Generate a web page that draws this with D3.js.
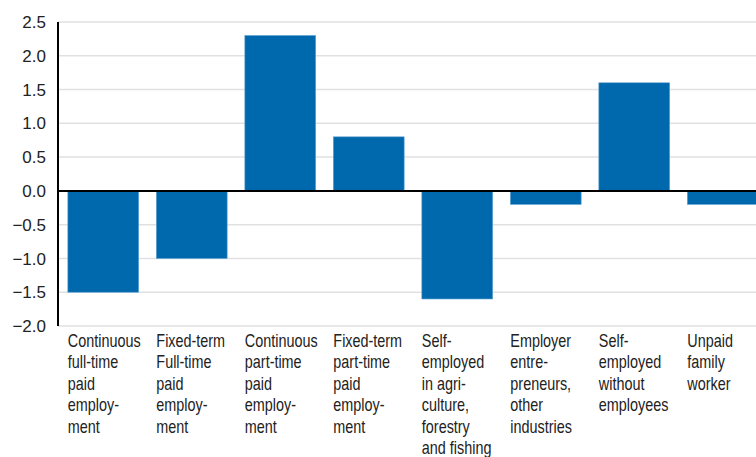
<!DOCTYPE html>
<html><head><meta charset="utf-8">
<script src="https://cdn.jsdelivr.net/npm/d3@7"></script>
<style>
body{margin:0;background:#fff;}
svg{display:block;}
.cat{font-family:"Liberation Sans","Helvetica",sans-serif;font-size:18px;fill:#222;}
.yt{font-family:"Liberation Sans","Helvetica",sans-serif;font-size:17px;fill:#222;}
</style></head>
<body><svg id="c" width="756" height="457"></svg>
<script>
const categories = [
  ["Continuous","full-time","paid","employ-","ment"],
  ["Fixed-term","Full-time","paid","employ-","ment"],
  ["Continuous","part-time","paid","employ-","ment"],
  ["Fixed-term","part-time","paid","employ-","ment"],
  ["Self-","employed","in agri-","culture,","forestry","and fishing"],
  ["Employer","entre-","preneurs,","other","industries"],
  ["Self-","employed","without","employees"],
  ["Unpaid","family","worker"]
];
const values = [-1.5, -1.0, 2.3, 0.8, -1.6, -0.2, 1.6, -0.2];
const yTicks = [-2.0, -1.5, -1.0, -0.5, 0.0, 0.5, 1.0, 1.5, 2.0, 2.5];

const svg = d3.select("#c");
const W = 756, left = 58;
const y = d3.scaleLinear().domain([-2.0, 2.5]).range([326, 22]);
const x = d3.scaleBand().domain(d3.range(categories.length)).range([59, 767]).paddingInner(0.2).paddingOuter(0.1);

// gridlines
svg.append("g").selectAll("line").data(yTicks).join("line")
  .attr("x1", left).attr("x2", W).attr("y1", d=>y(d)).attr("y2", d=>y(d))
  .attr("stroke", "#e1e1e1").attr("stroke-width", 1.5);

// y tick labels
svg.append("g").selectAll("text").data(yTicks).join("text")
  .attr("class","yt").attr("x", 46).attr("y", d=>y(d)).attr("dy","0.36em")
  .attr("text-anchor","end")
  .text(d=> (d<0?"\u2212":"") + Math.abs(d).toFixed(1));

// bars
svg.append("g").selectAll("rect").data(values).join("rect")
  .attr("x", (d,i)=>x(i)).attr("width", x.bandwidth())
  .attr("y", d=>y(Math.max(0,d))).attr("height", d=>Math.abs(y(d)-y(0)))
  .attr("fill", "#0069ad").attr("stroke","#5aa0d0").attr("stroke-width",0.6);

// zero line
svg.append("line").attr("x1", left).attr("x2", W).attr("y1", y(0)).attr("y2", y(0))
  .attr("stroke","#000").attr("stroke-width",2);
// y axis line
svg.append("line").attr("x1", left).attr("x2", left).attr("y1", y(2.5)).attr("y2", y(-2.0))
  .attr("stroke","#000").attr("stroke-width",2);

// category labels (condensed look)
const g = svg.append("g");
categories.forEach((lines,i)=>{
  const gg = g.append("g").attr("transform", `translate(${x(i)},0) scale(0.8,1)`);
  const t = gg.append("text").attr("class","cat").attr("x", 0).attr("y", 347);
  lines.forEach((l,j)=>t.append("tspan").attr("x", 0).attr("y", 347 + j*21.5).text(l));
});
</script></body></html>
